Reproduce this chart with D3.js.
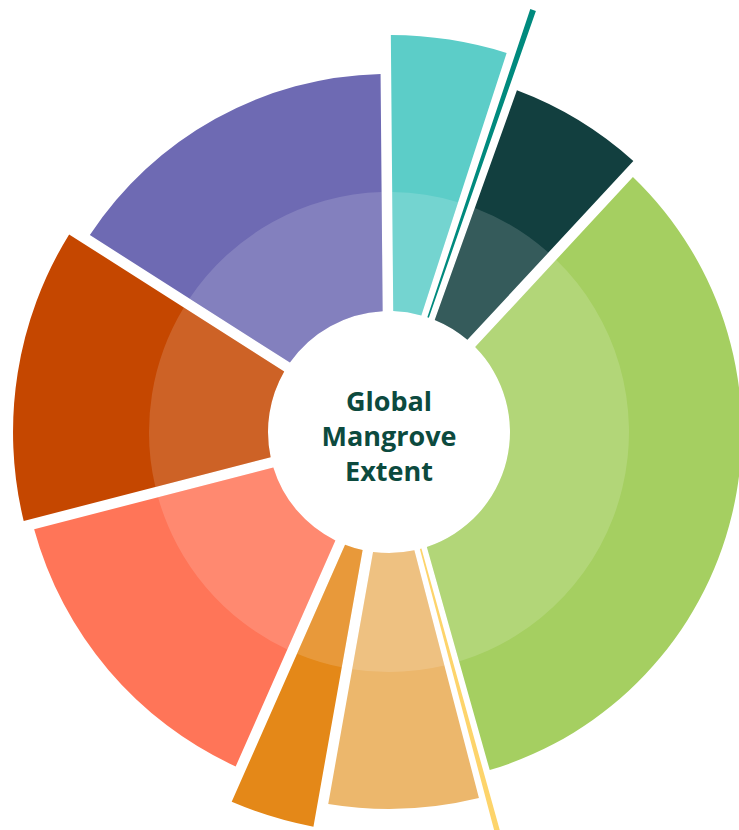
<!DOCTYPE html>
<html>
<head>
<meta charset="utf-8">
<script src="https://cdn.jsdelivr.net/npm/d3@7"></script>
<style>
  html, body { margin: 0; padding: 0; background: #ffffff; }
  svg { display: block; }
</style>
</head>
<body>
<div id="chart"></div>
<script>
// ---- data (clockwise from the top) ----
const segments   = ["A", "A-small", "B", "C", "C-small", "D", "E", "F", "G", "H"];
const shares     = [5.14, 0.47, 6.44, 33.72, 0.31, 6.86, 3.81, 14.36, 13.06, 15.83]; // % of circle
const magnitudes = [89.0, 100, 81.8, 79.1, 97.5, 84.5, 90.1, 82.5, 84.3, 80.3];      // radial value (0-100)
const thinFlags  = [false, true, false, false, true, false, false, false, false, false];
const colors     = ["#5ccdc8", "#008a7e", "#123f3f", "#a5cf61", "#fdd46b",
                    "#ecb76c", "#e48818", "#ff7558", "#c54700", "#6e6ab3"];
const centerLines = ["Global", "Mangrove", "Extent"];

// ---- layout ----
const W = 739, H = 830;
const cx = 389, cy = 432;
const innerR = 121, bandR = 240;
const deg = Math.PI / 180;

const rows = segments.map((s, i) => ({
  name: s, share: shares[i], mag: magnitudes[i], thin: thinFlags[i], color: colors[i]
}));

const rScale = d3.scaleLinear().domain([0, 100]).range([0, 446]);

const pie = d3.pie().sort(null).value(d => d.share)
  .startAngle(-0.5 * deg).endAngle(359.5 * deg);

const arcs = pie(rows);

const svg = d3.select("#chart").append("svg")
  .attr("width", W).attr("height", H);

const g = svg.append("g").attr("transform", `translate(${cx},${cy})`);

const mainArc = d3.arc()
  .innerRadius(innerR)
  .outerRadius(d => rScale(d.data.mag))
  .padRadius(100)
  .padAngle(0.106);

const bandArc = d3.arc()
  .innerRadius(innerR)
  .outerRadius(d => Math.min(bandR, rScale(d.data.mag)))
  .padRadius(100)
  .padAngle(0.106);

const thinArc = d3.arc()
  .innerRadius(innerR)
  .outerRadius(d => rScale(d.data.mag))
  .startAngle(d => (d.startAngle + d.endAngle) / 2 - 0.38 * deg)
  .endAngle(d => (d.startAngle + d.endAngle) / 2 + 0.38 * deg);

const mains = arcs.filter(d => !d.data.thin);
const thins = arcs.filter(d => d.data.thin);

g.selectAll("path.seg").data(mains).join("path")
  .attr("class", "seg")
  .attr("d", mainArc)
  .attr("fill", d => d.data.color);

g.selectAll("path.band").data(mains).join("path")
  .attr("class", "band")
  .attr("d", bandArc)
  .attr("fill", "#ffffff")
  .attr("fill-opacity", 0.15);

g.selectAll("path.thin").data(thins).join("path")
  .attr("class", "thin")
  .attr("d", thinArc)
  .attr("fill", d => d.data.color);

// center label
const label = g.append("text")
  .attr("text-anchor", "middle")
  .attr("font-family", "'Open Sans', 'Noto Sans', sans-serif")
  .attr("font-weight", 700)
  .attr("font-size", 27)
  .attr("fill", "#0c4a3e");

const baselines = [-21.5, 14, 49];
label.selectAll("tspan").data(centerLines).join("tspan")
  .attr("x", 0)
  .attr("y", (d, i) => baselines[i])
  .text(d => d);
</script>
</body>
</html>
